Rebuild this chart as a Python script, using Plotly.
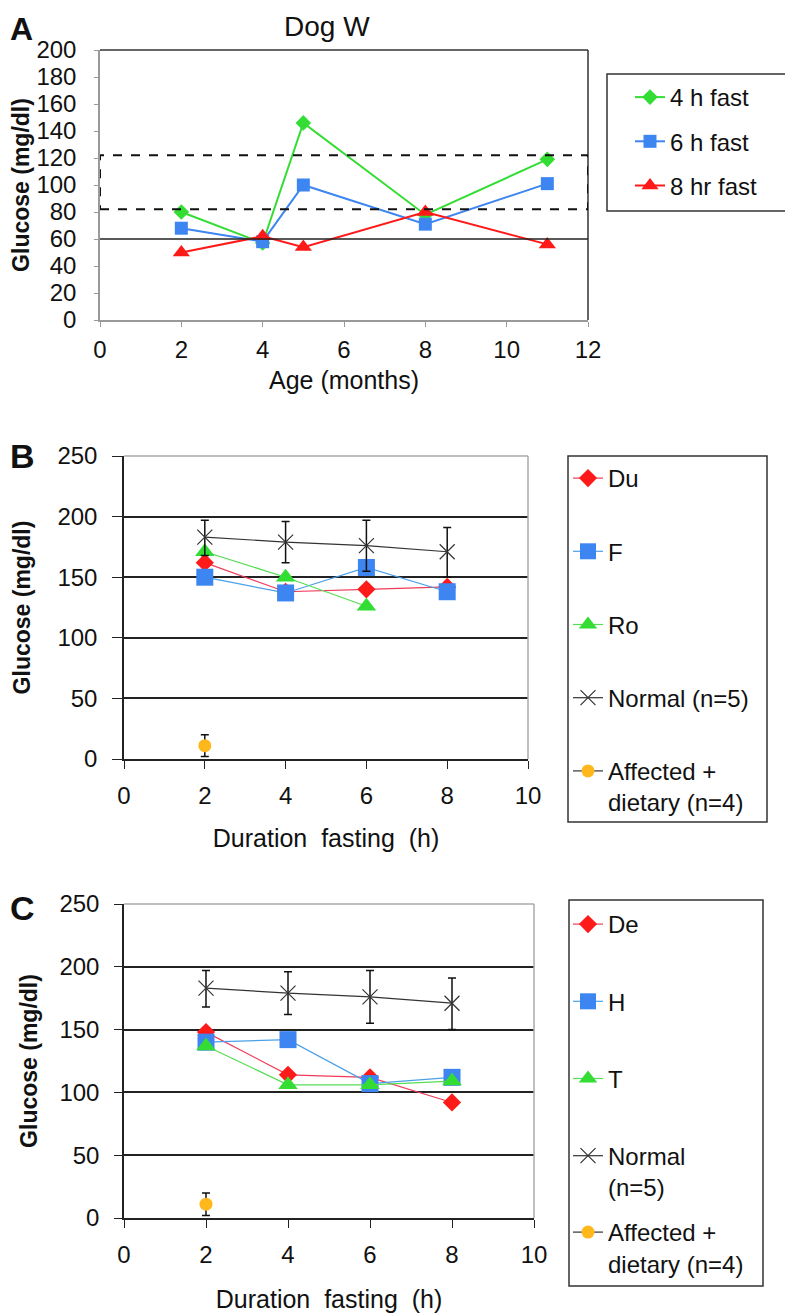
import plotly.graph_objects as go

# the page body adds an 8px margin, so the figure is drawn 8px smaller
# and every target pixel position is shifted by that offset
OFF = 8
W, H = 793 - OFF, 1315 - OFF
FONT = "Arial, Liberation Sans, sans-serif"

# Panel A - Dog W, glucose by age
age = [2, 4, 5, 8, 11]
fast4 = [80, 57, 146, 78, 119]
fast6 = [68, 58, 100, 71, 101]
fast8 = [50, 62, 54, 80, 56]

# Panels B and C - glucose by fasting duration
hours = [2, 4, 6, 8]
du = [162, 138, 140, 142]
f_dog = [150, 137, 158, 138]
ro = [171, 150, 126]
de = [148, 114, 112, 92]
h_dog = [140, 142, 107, 112]
t_dog = [137, 106, 106, 109]
normal = [183, 179, 176, 171]
normal_up = [14, 17, 21, 20]
normal_down = [15, 17, 21, 21]
affected_x = [2]
affected = [11]
affected_err = [9]

GREEN = "#33dd33"
BLUE = "#3d85f0"
RED = "#ff1a1a"
ORANGE = "#ffb81c"
GREY = "#333333"


def px(v):
    return (v - OFF) / W


def py(v):
    return 1 - (v - OFF) / H


fig = go.Figure()

# ---- panel A
fig.add_trace(go.Scatter(x=age, y=fast4, name="4 h fast", mode="lines+markers",
                         line=dict(color=GREEN, width=2),
                         marker=dict(symbol="diamond", size=12, color=GREEN),
                         xaxis="x", yaxis="y", legend="legend", legendgroup="a1"))
fig.add_trace(go.Scatter(x=age, y=fast6, name="6 h fast", mode="lines+markers",
                         line=dict(color=BLUE, width=2),
                         marker=dict(symbol="square", size=13, color=BLUE),
                         xaxis="x", yaxis="y", legend="legend", legendgroup="a2"))
fig.add_trace(go.Scatter(x=age, y=fast8, name="8 hr fast", mode="lines+markers",
                         line=dict(color=RED, width=2),
                         marker=dict(symbol="triangle-up", size=15, color=RED),
                         xaxis="x", yaxis="y", legend="legend", legendgroup="a3"))


def fasting_panel(xa, ya, leg, aff_leg, names, series, normal_name, aff_name):
    cols = [RED, BLUE, GREEN]
    lcols = ["#f03c5a", "#4aa0e8", "#55dd55"]
    syms = [("diamond", 14), ("square", 17), ("triangle-up", 17)]
    for i, (nm, vals) in enumerate(zip(names, series)):
        fig.add_trace(go.Scatter(
            x=hours[:len(vals)], y=vals, name=nm, mode="lines+markers",
            line=dict(color=lcols[i], width=1.2),
            marker=dict(symbol=syms[i][0], size=syms[i][1], color=cols[i]),
            xaxis=xa, yaxis=ya, legend=leg, legendgroup=leg + nm))
    fig.add_trace(go.Scatter(
        x=hours, y=normal, name=normal_name, mode="lines+markers",
        line=dict(color=GREY, width=1.2),
        marker=dict(symbol="x-thin", size=15, color=GREY, line=dict(color=GREY, width=1.2)),
        error_y=dict(type="data", array=normal_up, arrayminus=normal_down,
                     color="#111111", thickness=1.5, width=4),
        xaxis=xa, yaxis=ya, legend=leg, legendgroup=leg + "normal"))
    fig.add_trace(go.Scatter(
        x=affected_x, y=affected, name=aff_name, mode="lines+markers",
        line=dict(color=GREY, width=1.2),
        marker=dict(symbol="circle", size=13, color=ORANGE),
        error_y=dict(type="data", array=affected_err, color="#111111", thickness=1.5, width=4),
        xaxis=xa, yaxis=ya, legend=aff_leg, legendgroup=leg + "aff"))


fasting_panel("x2", "y2", "legend2", "legend2", ["Du", "F", "Ro"], [du, f_dog, ro],
              "Normal (n=5)", "Affected +<br>dietary (n=4)")
fasting_panel("x3", "y3", "legend3", "legend4", ["De", "H", "T"], [de, h_dog, t_dog],
              "Normal<br>(n=5)", "Affected +<br>dietary (n=4)")

tickfont = dict(family=FONT, size=24, color="#111111")
ytitlefont = dict(family=FONT, size=23, color="#111111")
xtitlefont = dict(family=FONT, size=25, color="#111111")
legfont = dict(family=FONT, size=24, color="#111111")
NB = "\u00a0"


def xax(dom, rng, lc, tl, standoff, title, tstand, anchor):
    return dict(domain=dom, range=rng, dtick=2, showgrid=False, automargin=False,
                zeroline=False, showline=True, linecolor=lc, linewidth=1.5,
                ticks="outside", ticklen=tl, tickcolor=lc, tickfont=tickfont,
                ticklabelstandoff=standoff, anchor=anchor,
                title=dict(text=title, font=xtitlefont, standoff=tstand))


def yax(dom, rng, dt, lc, tl, standoff, tstand, anchor, grid):
    return dict(domain=dom, range=rng, dtick=dt, showgrid=grid, gridcolor="#222222",
                gridwidth=1.5, automargin=False,
                zeroline=False, showline=True, linecolor=lc, linewidth=1.5,
                ticks="outside", ticklen=tl, tickcolor=lc, tickfont=tickfont,
                ticklabelstandoff=standoff, anchor=anchor,
                title=dict(text="<b>Glucose (mg/dl)</b>", font=ytitlefont, standoff=tstand))


dur_title = "Duration" + NB + " fasting" + NB + " (h)"

fig.update_layout(
    width=W, height=H,
    margin=dict(l=0, r=0, t=0, b=0, autoexpand=False),
    paper_bgcolor="white", plot_bgcolor="white",
    font=dict(family=FONT, size=22, color="#111111"),
    xaxis=xax([px(100), px(588)], [0, 12], "#999999", 5, 2, "Age (months)", 10, "y"),
    yaxis=yax([py(320), py(50)], [0, 200], 20, "#999999", 4, 13, 21, "x", False),
    xaxis2=xax([px(124), px(528)], [0, 10], "#222222", 8, 6, dur_title, 22, "y2"),
    yaxis2=yax([py(759), py(456)], [0, 250], 50, "#222222", 10, 10, 20, "x2", True),
    xaxis3=xax([px(124), px(534)], [0, 10], "#222222", 8, 6, dur_title, 24, "y3"),
    yaxis3=yax([py(1218), py(904)], [0, 250], 50, "#222222", 8, 10, 15, "x3", True),
    legend=dict(x=px(630), y=py(75), xanchor="left", yanchor="top",
                bgcolor="rgba(0,0,0,0)", borderwidth=0, font=legfont,
                tracegroupgap=10, traceorder="grouped", itemwidth=30),
    legend2=dict(x=px(568), y=py(456), xanchor="left", yanchor="top",
                 bgcolor="rgba(0,0,0,0)", borderwidth=0, font=legfont,
                 tracegroupgap=39, traceorder="grouped", itemwidth=30, valign="top"),
    legend3=dict(x=px(568), y=py(902), xanchor="left", yanchor="top",
                 bgcolor="rgba(0,0,0,0)", borderwidth=0, font=legfont,
                 tracegroupgap=43, traceorder="grouped", itemwidth=30, valign="top"),
    legend4=dict(x=px(568), y=py(1210), xanchor="left", yanchor="top",
                 bgcolor="rgba(0,0,0,0)", borderwidth=0, font=legfont,
                 traceorder="grouped", itemwidth=30, valign="top"),
)

shapes = [
    # panel A frame (top/right), 60 line and dashed target band
    dict(type="line", xref="x domain", yref="y domain", x0=0, x1=1, y0=1, y1=1,
         line=dict(color="#333333", width=1.5)),
    dict(type="line", xref="x domain", yref="y domain", x0=1, x1=1, y0=0, y1=1,
         line=dict(color="#333333", width=1.5)),
    dict(type="line", xref="x", yref="y", x0=-0.1, x1=12, y0=60, y1=60,
         line=dict(color="#222222", width=1.5)),
    dict(type="rect", xref="x", yref="y", x0=0, x1=12, y0=82, y1=122,
         line=dict(color="#111111", width=2, dash="dash")),
    # legend boxes
    dict(type="rect", xref="paper", yref="paper", x0=px(607), x1=px(792), y0=py(211), y1=py(74),
         line=dict(color="#333333", width=1.5)),
    dict(type="rect", xref="paper", yref="paper", x0=px(568), x1=px(767), y0=py(822), y1=py(456),
         line=dict(color="#333333", width=1.5)),
    dict(type="rect", xref="paper", yref="paper", x0=px(569), x1=px(763), y0=py(1286), y1=py(900),
         line=dict(color="#333333", width=1.5)),
]
for xa, ya in [("x2", "y2"), ("x3", "y3")]:
    shapes.append(dict(type="line", xref=xa + " domain", yref=ya + " domain", x0=0, x1=1, y0=1, y1=1,
                       line=dict(color="#aaaaaa", width=1.5)))
    shapes.append(dict(type="line", xref=xa + " domain", yref=ya + " domain", x0=1, x1=1, y0=0, y1=1,
                       line=dict(color="#aaaaaa", width=1.5)))
fig.update_layout(shapes=shapes)

annotations = [
    dict(text="<b>A</b>", x=px(8), y=py(9), xanchor="left", yanchor="top", font=dict(size=32)),
    dict(text="<b>B</b>", x=px(8), y=py(456), xanchor="left", yanchor="middle", font=dict(size=34)),
    dict(text="<b>C</b>", x=px(8), y=py(908), xanchor="left", yanchor="middle", font=dict(size=34)),
    dict(text="Dog W", x=px(327), y=py(9), xanchor="center", yanchor="top", font=dict(size=28)),
]
for a in annotations:
    a.update(xref="paper", yref="paper", showarrow=False)
    a["font"]["family"] = FONT
    a["font"]["color"] = "#111111"
fig.update_layout(annotations=annotations)

fig.write_html("out.html")
